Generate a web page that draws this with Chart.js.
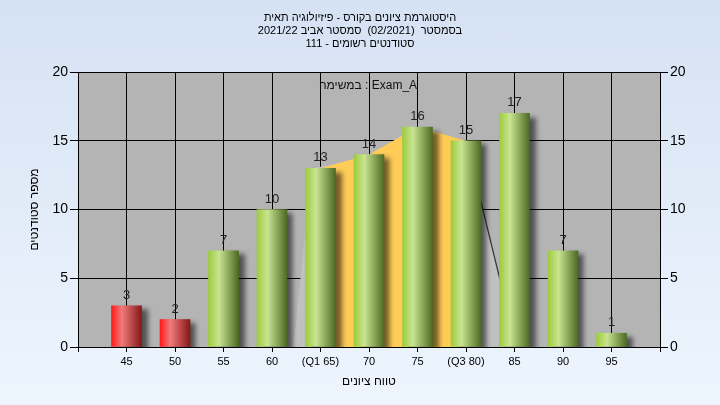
<!DOCTYPE html>
<html lang="he">
<head>
    <meta charset="UTF-8">
    <title>היסטוגרמת ציונים</title>
    <script src="https://cdn.jsdelivr.net/npm/chart.js"></script>
    <style>
        html, body { margin: 0; padding: 0; }
        body { background: linear-gradient(#d5e2f4, #eef5fd); width: 720px; height: 405px; }
        .wrap { position: relative; width: 720px; height: 405px; }
    </style>
</head>
<body>
<div class="wrap"><canvas id="histChart"></canvas></div>

<script>
    // grade ranges and number of students in each
    const scores = [45, 50, 55, 60, 65, 70, 75, 80, 85, 90, 95];
    const counts = [3, 2, 7, 10, 13, 14, 16, 15, 17, 7, 1];
    const tickLabels = ['45', '50', '55', '60', '(Q1 65)', '70', '75', '(Q3 80)', '85', '90', '95'];
    const passMark = 55;

    // shaded area behind the bars
    const areaX = [62.2, 64.1, 80, 85.2];
    const areaY = [0, 13, 15, 0];
    // quartile band Q1..Q3
    const bandX = [65, 70, 75, 80];
    const bandY = [13, 14, 16, 15];

    const titleLines = [
        'היסטוגרמת ציונים בקורס - פיזיולוגיה תאית',
        'בסמסטר  (02/2021)  סמסטר אביב 2021/22',
        'סטודנטים רשומים - 111'
    ];
    const examLabel = 'במשימה : Exam_A';
    const font = '"Liberation Sans", Arial, sans-serif';

    function barFill(c) {
        const chart = c.chart;
        const red = scores[c.dataIndex] < passMark;
        if (c.type !== 'data' || !chart.chartArea) return red ? '#d02020' : '#9c3';
        const x = chart.scales.x.getPixelForValue(scores[c.dataIndex]);
        const g = chart.ctx.createLinearGradient(x - 15, 0, x + 15, 0);
        if (red) {
            g.addColorStop(0, '#ff1a1a');
            g.addColorStop(0.35, '#f07a7a');
            g.addColorStop(1, '#861818');
        } else {
            g.addColorStop(0, '#9ccc3c');
            g.addColorStop(0.35, '#c9e492');
            g.addColorStop(1, '#4c6a22');
        }
        return g;
    }

    // plot background, shadows, value labels and titles
    const decor = {
        id: 'decor',
        beforeDraw(chart) {
            const {ctx, chartArea: a} = chart;
            ctx.save();
            ctx.fillStyle = '#b4b4b4';
            ctx.fillRect(a.left, a.top, a.right - a.left, a.bottom - a.top);
            ctx.restore();
        },
        beforeDatasetDraw(chart, args) {
            if (args.meta.type !== 'bar') return;
            const ctx = chart.ctx;
            ctx.save();
            ctx.shadowColor = 'rgba(0,0,0,0.55)';
            ctx.shadowOffsetX = 6;
            ctx.shadowOffsetY = 4;
            ctx.shadowBlur = 5;
        },
        afterDatasetDraw(chart, args) {
            if (args.meta.type !== 'bar') return;
            chart.ctx.restore();
        },
        afterDatasetsDraw(chart) {
            const ctx = chart.ctx;
            const meta = chart.getDatasetMeta(2);
            ctx.save();
            ctx.fillStyle = '#222';
            ctx.font = '13px ' + font;
            ctx.textAlign = 'center';
            ctx.textBaseline = 'alphabetic';
            meta.data.forEach((el, i) => {
                ctx.fillText(String(counts[i]), el.x, el.y - 7);
            });
            ctx.font = '12px ' + font;
            ctx.textBaseline = 'middle';
            ctx.fillStyle = '#111';
            ctx.fillText(examLabel, 368, 86);

            ctx.direction = 'rtl';
            ctx.font = '11px ' + font;
            ctx.fillStyle = '#000';
            titleLines.forEach((t, i) => ctx.fillText(t, 360, 18 + i * 13));
            ctx.restore();
        }
    };

    const ctx = document.getElementById('histChart').getContext('2d');
    const histChart = new Chart(ctx, {
        data: {
            datasets: [{
                type: 'line',
                data: areaX.map((x, i) => ({x: x, y: areaY[i]})),
                fill: 'origin',
                backgroundColor: '#c0c0c0',
                borderWidth: 1.2,
                borderColor: 'rgba(0,0,0,0)',
                segment: {
                    borderColor: c => c.p0.parsed.x >= 80 ? '#333' : 'rgba(0,0,0,0)'
                },
                pointRadius: 0,
                tension: 0,
                order: 3
            }, {
                type: 'line',
                data: bandX.map((x, i) => ({x: x, y: bandY[i]})),
                fill: 'origin',
                backgroundColor: '#ffcc57',
                borderWidth: 0,
                pointRadius: 0,
                tension: 0,
                order: 2
            }, {
                type: 'bar',
                data: scores.map((s, i) => ({x: s, y: counts[i]})),
                backgroundColor: barFill,
                borderWidth: 0,
                barThickness: 30,
                order: 1
            }]
        },
        options: {
            responsive: true,
            maintainAspectRatio: false,
            animation: false,
            layout: { padding: { top: 72 } },
            plugins: {
                legend: { display: false },
                tooltip: { enabled: false }
            },
            scales: {
                x: {
                    type: 'linear',
                    min: 40,
                    max: 100,
                    offset: false,
                    afterFit: s => { s.height = 58; },
                    ticks: {
                        stepSize: 5,
                        autoSkip: false,
                        maxRotation: 0,
                        padding: 3,
                        color: '#000',
                        font: { family: font, size: 11 },
                        callback: v => {
                            const i = scores.indexOf(v);
                            return i < 0 ? '' : tickLabels[i];
                        }
                    },
                    grid: { offset: false, color: '#000', tickLength: 5, tickColor: '#000' },
                    border: { color: '#000' },
                    title: {
                        display: true,
                        text: 'טווח ציונים',
                        color: '#000',
                        font: { family: font, size: 12 },
                        padding: { top: 0, bottom: 16 }
                    }
                },
                y: {
                    position: 'left',
                    min: 0,
                    max: 20,
                    afterFit: s => { s.width = 78; },
                    ticks: {
                        stepSize: 5,
                        padding: 2,
                        color: '#000',
                        font: { family: font, size: 14 }
                    },
                    grid: { color: '#000', tickLength: 8, tickColor: '#000' },
                    border: { color: '#000' },
                    title: {
                        display: true,
                        text: 'מספר סטודנטים',
                        color: '#000',
                        font: { family: font, size: 12 },
                        padding: { top: 27, bottom: 0 }
                    }
                },
                y2: {
                    position: 'right',
                    min: 0,
                    max: 20,
                    afterFit: s => { s.width = 60; },
                    ticks: {
                        stepSize: 5,
                        padding: 2,
                        color: '#000',
                        font: { family: font, size: 14 }
                    },
                    grid: { drawOnChartArea: false, tickLength: 8, tickColor: '#000' },
                    border: { color: '#000' }
                }
            }
        },
        plugins: [decor]
    });
</script>
</body>
</html>
